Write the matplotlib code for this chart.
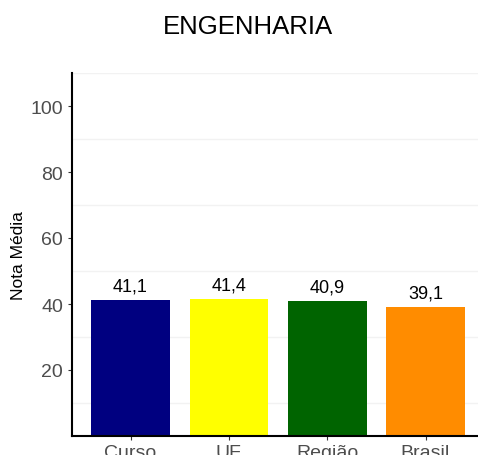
import matplotlib
matplotlib.use('Agg')
import matplotlib.pyplot as plt
import numpy as np

plt.rcParams['font.family'] = ['Liberation Sans', 'DejaVu Sans']

categorias = ['Curso', 'UF', 'Região', 'Brasil']
notas = [41.1, 41.4, 40.9, 39.1]
rotulos = ['41,1', '41,4', '40,9', '39,1']
cores = ['#000080', '#FFFF00', '#006400', '#FF8C00']
yticks = [20, 40, 60, 80, 100]

fig = plt.figure(figsize=(4.78, 4.56), dpi=100)
ax = fig.add_axes([71.5 / 478, 19 / 456, 413 / 478, 363 / 456])

x = np.arange(len(categorias))
ax.bar(x, notas, 0.8, color=cores, zorder=2)
for xi, v, r in zip(x, notas, rotulos):
    ax.text(xi, v + 3, r, ha='center', va='baseline', fontsize=13, color='black', zorder=3)

ax.set_xlim(-0.6, len(categorias) - 0.4)
ax.set_ylim(0, 110)
ax.set_xticks(x)
ax.set_xticklabels(categorias)
ax.set_yticks(yticks)
ax.set_yticks(np.arange(10, 111, 20), minor=True)
ax.grid(which='minor', axis='y', color='#F2F2F2', linewidth=1, zorder=0)
ax.tick_params(axis='both', which='major', labelsize=14, labelcolor='#4D4D4D',
               color='#333333', length=3, width=0.8, pad=3)
ax.tick_params(axis='y', which='minor', length=0)

for s in ['top', 'right']:
    ax.spines[s].set_visible(False)
for s in ['left', 'bottom']:
    ax.spines[s].set_color('black')
    ax.spines[s].set_linewidth(1.5)

fig.text(247.5 / 478, 1 - 34 / 456, 'ENGENHARIA', ha='center', va='baseline', fontsize=18.5)
fig.text(18.5 / 478, 0.4397, 'Nota Média', rotation=90, ha='center', va='center', fontsize=12.5)

plt.savefig('out.png', dpi=100)
